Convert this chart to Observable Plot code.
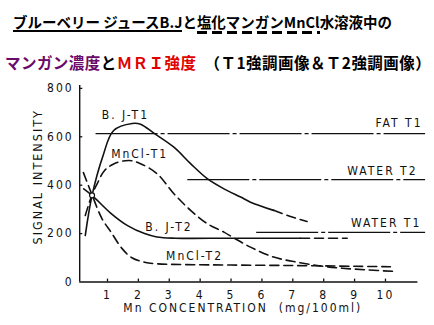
<!DOCTYPE html>
<html><head><meta charset="utf-8">
<script src="https://cdn.jsdelivr.net/npm/d3@7"></script>
<script src="https://cdn.jsdelivr.net/npm/@observablehq/plot@0.6"></script>
<style>
html,body{margin:0;padding:0;background:#fff;width:434px;height:325px;overflow:hidden}
#title{position:relative;height:80px;width:434px}
.t{position:absolute;white-space:nowrap;font-family:'Noto Sans CJK JP',sans-serif;font-weight:bold;line-height:20px}
.ul{background:linear-gradient(#000,#000) left bottom/100% 2px no-repeat}
.ud{padding-bottom:2px;background:repeating-linear-gradient(90deg,#000 0 10px,transparent 10px 15px) left bottom/100% 3px no-repeat}
#chart svg{display:block}
</style></head>
<body>
<div id="title">
  <div class="t" id="l1" style="left:13px;top:12px;font-size:14.5px"><span class="ul">ブルーベリー ジュースB.J</span>と<span class="ud">塩化マンガンMnCl</span>水溶液中の</div>
  <div class="t" id="l2" style="left:5px;top:52px;font-size:15.5px;letter-spacing:0.45px"><span style="color:#6a0a6a">マンガン濃度</span>と<span style="color:#e00000">ＭＲＩ強度</span>　（Ｔ1強調画像＆Ｔ2強調画像）</div>
</div>
<div id="chart"></div>
<script>
// tick values
const xTicks = [1, 2, 3, 4, 5, 6, 7, 8, 9, 10];
const yTicks = [0, 200, 400, 600, 800];

// B.J-T1 (solid, dashed tail)
const bjT1X = [0.28, 0.5, 0.85, 1.2, 1.8, 2.07, 2.5, 3.15, 3.69, 4.23, 4.77, 5.31, 5.63, 6.38];
const bjT1Y = [192, 358, 520, 626, 655, 652, 615, 557, 489, 427, 385, 351, 330, 296];
const bjT1TailX = [6.38, 6.9, 7.46];
const bjT1TailY = [296, 272, 250];

// MnCl-T1 (dashed)
const mnT1X = [0.28, 0.5, 0.7, 0.9, 1.2, 1.69, 2.07, 2.61, 3.15, 3.69, 4.23, 4.77, 5.09, 5.63, 6.38, 7.14, 7.9, 8.6, 9.4, 10.25];
const mnT1Y = [275, 360, 415, 460, 488, 502, 489, 447, 365, 296, 241, 206, 182, 144, 103, 82, 66, 57, 50, 44];

// B.J-T2 (solid, dashed tail)
const bjT2X = [0.23, 0.5, 1.1, 1.65, 2.2, 2.6, 3.2, 5.0, 7.25];
const bjT2Y = [385, 358, 285, 233, 200, 186, 181, 181, 181];
const bjT2TailX = [7.25, 8.76];
const bjT2TailY = [181, 181];

// MnCl-T2 (dashed)
const mnT2X = [0.22, 0.5, 0.82, 1.12, 1.46, 1.79, 2.2, 2.6, 3.5, 5.0, 7.0, 9.0, 10.16];
const mnT2Y = [452, 360, 262, 205, 140, 100, 82, 75, 72, 70, 68, 65, 63];

// reference levels
const refNames = ["FAT T1", "WATER T2", "WATER T1"];
const refY = [613, 423, 205];
const refX1 = [0.63, 3.6, 5.83];
const refX2 = [11.3, 11.3, 11.3];

// curve labels
const curveLabels = ["B. J-T1", "MnCl-T1", "B. J-T2", "MnCl-T2"];
const curveLabelX = [1.58, 2.04, 2.99, 3.82];
const curveLabelY = [688, 527, 225, 107];
const refLabelX = [11.2, 11.04, 11.16];
const refLabelY = [655, 457, 242];

// crossing point
const crossX = [0.5];
const crossY = [358];

const pts = (X, Y) => X.map((x, i) => ({x, y: Y[i]}));
const refs = refNames.map((n, i) => ({n, y: refY[i], x1: refX1[i], x2: refX2[i], lx: refLabelX[i], ly: refLabelY[i]}));
const clabs = curveLabels.map((t, i) => ({t, x: curveLabelX[i], y: curveLabelY[i]}));

const lineOpts = {x: "x", y: "y", stroke: "#111", strokeWidth: 1.6, curve: "catmull-rom"};
const dash = "9,5";

const chart = Plot.plot({
  width: 434, height: 245,
  marginLeft: 79.2, marginRight: 16.6, marginTop: 5, marginBottom: 43.5,
  x: {domain: [0.1, 11.05], ticks: xTicks, tickSize: 0, tickPadding: 8, label: null, tickFormat: d => String(d)},
  y: {domain: [0, 812], ticks: yTicks, tickSize: 0, tickPadding: 6, label: null, tickFormat: d => String(d)},
  style: {fontFamily: "'Liberation Sans Narrow','DejaVu Sans Condensed',sans-serif", fontSize: "12px", letterSpacing: "2px", background: "#fff", color: "#111", overflow: "visible"},
  marks: [
    Plot.ruleY([0], {stroke: "#111", strokeWidth: 1.6}),
    Plot.ruleX([0.1], {stroke: "#111", strokeWidth: 1.4}),
    Plot.ruleX(xTicks, {y1: 0, y2: 12, stroke: "#111", strokeWidth: 1.3}),
    Plot.ruleY(yTicks.slice(1), {x1: 0.1, x2: 0.2, stroke: "#111", strokeWidth: 1.3}),
    Plot.ruleY(refs, {y: "y", x1: "x1", x2: "x2", stroke: "#111", strokeWidth: 1.3, strokeDasharray: "62,3,4,3"}),
    Plot.line(pts(bjT1X, bjT1Y), lineOpts),
    Plot.line(pts(bjT1TailX, bjT1TailY), {...lineOpts, strokeDasharray: dash}),
    Plot.line(pts(mnT1X, mnT1Y), {...lineOpts, strokeDasharray: dash}),
    Plot.line(pts(bjT2X, bjT2Y), lineOpts),
    Plot.line(pts(bjT2TailX, bjT2TailY), {...lineOpts, strokeDasharray: dash}),
    Plot.line(pts(mnT2X, mnT2Y), {...lineOpts, strokeDasharray: dash}),
    Plot.dot(pts(crossX, crossY), {x: "x", y: "y", r: 2.5, stroke: "#111", fill: "#fff", strokeWidth: 1.2}),
    Plot.text(clabs, {x: "x", y: "y", text: "t", fill: "#111", fontSize: 12}),
    Plot.text(refs, {x: "lx", y: "ly", text: "n", textAnchor: "end", fill: "#111", fontSize: 12}),
    Plot.text(["Mn CONCENTRATION  (mg/100ml)"], {frameAnchor: "bottom", dx: -6, dy: 30, fill: "#111", fontSize: 12, fontVariant: "normal"}),
    Plot.text(["SIGNAL INTENSITY"], {frameAnchor: "left", textAnchor: "middle", dx: -41.5, dy: -7, rotate: -90, fill: "#111", fontSize: 12.5})
  ]
});
document.getElementById("chart").appendChild(chart);
</script>
</body></html>
